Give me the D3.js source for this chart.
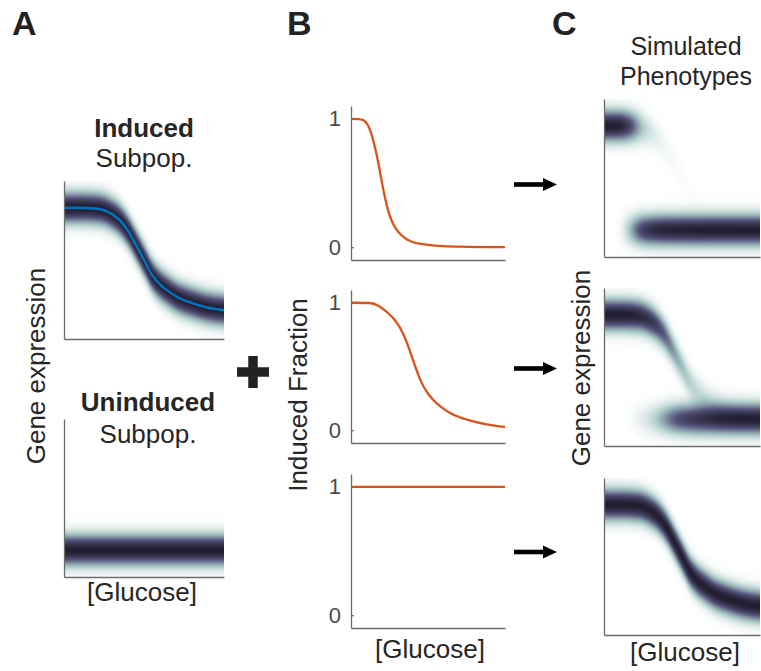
<!DOCTYPE html>
<html>
<head>
<meta charset="utf-8">
<script src="https://cdn.jsdelivr.net/npm/d3@7"></script>
<style>
  html, body { margin: 0; padding: 0; background: #ffffff; }
  svg { display: block; font-family: "Liberation Sans", Arial, Helvetica, sans-serif; }
</style>
</head>
<body>
<svg id="fig" width="761" height="671"></svg>
<script>
// ---- Data -------------------------------------------------------------
// Glucose position along the x axis (0 = low, 1 = high) and mean expression
// of the induced subpopulation (0 = bottom of the axes, 1 = top).
const glucoseInduced = [0, 0.1, 0.2, 0.25, 0.3, 0.35, 0.4, 0.45, 0.5, 0.55, 0.6, 0.65, 0.7, 0.8, 0.9, 1.0];
const meanInduced    = [0.83, 0.83, 0.825, 0.815, 0.79, 0.75, 0.685, 0.595, 0.50, 0.405, 0.345, 0.305, 0.27, 0.228, 0.198, 0.183];

// Mean expression of the uninduced subpopulation (flat in glucose).
const glucoseUninduced = [0, 1];
const meanUninduced    = [0.17, 0.17];

// Induced fraction vs glucose, one series per row of panel B.
const glucoseSteep = [0, 0.05, 0.08, 0.11, 0.13, 0.155, 0.18, 0.2, 0.22, 0.24, 0.27, 0.3, 0.34, 0.4, 0.5, 0.6, 0.75, 1.0];
const fracSteep    = [1.0, 0.998, 0.99, 0.95, 0.89, 0.78, 0.64, 0.51, 0.39, 0.29, 0.19, 0.13, 0.08, 0.04, 0.018, 0.008, 0.003, 0.0];

const glucoseGradual = [0, 0.12, 0.18, 0.23, 0.28, 0.32, 0.35, 0.38, 0.41, 0.44, 0.47, 0.5, 0.53, 0.58, 0.64, 0.71, 0.8, 0.88, 1.0];
const fracGradual    = [1.0, 0.998, 0.975, 0.93, 0.87, 0.80, 0.725, 0.63, 0.525, 0.425, 0.345, 0.288, 0.243, 0.187, 0.138, 0.10, 0.068, 0.047, 0.026];

const glucoseFlat = [0, 1];
const fracFlat    = [1, 1];

const fractionTicks = [0, 1];
const panelLetters  = ["A", "B", "C"];

// Spread of each subpopulation, as a fraction of the expression axis.
const expressionSpread = 0.063;

// ---- Helpers ----------------------------------------------------------
const svg = d3.select("#fig");
const defs = svg.append("defs");
const TEXT = "#262626";
const AXIS = "#6b6b6b";
const ORANGE = "#D95319";
const BLUE = "#0072BD";

// Colour ramp from empty (white) through pale teal and slate to a dark core.
const densityColor = d3.scaleLinear()
  .domain([0, 0.25, 0.625, 1])
  .range(["#ffffff", "#a9c9c6", "#54537a", "#221d30"])
  .interpolate(d3.interpolateRgb)
  .clamp(true);
const lut = d3.range(256).map(i => d3.rgb(densityColor(i / 255)));

// Smooth lookup through a series: draws a monotone curve in unit space
// (hidden) and samples it so density columns follow the same shape.
function smoothSeries(xs, ys) {
  const sx = d3.scaleLinear([0, 1], [0, 1000]);
  const sy = d3.scaleLinear([0, 1], [1000, 0]);
  const pts = xs.map((x, i) => [x, ys[i]]);
  const gen = d3.line().x(d => sx(d[0])).y(d => sy(d[1])).curve(d3.curveMonotoneX);
  const node = defs.append("path").attr("d", gen(pts)).node();
  const L = node.getTotalLength();
  const n = 2000;
  const sampX = [], sampY = [];
  for (let k = 0; k <= n; k++) {
    const p = node.getPointAtLength(L * k / n);
    sampX.push(sx.invert(p.x));
    sampY.push(sy.invert(p.y));
  }
  const bis = d3.bisector(d => d).left;
  return g => {
    let i = bis(sampX, g);
    if (i <= 0) return sampY[0];
    if (i >= sampX.length) return sampY[sampY.length - 1];
    const x0 = sampX[i - 1], x1 = sampX[i];
    const t = x1 > x0 ? (g - x0) / (x1 - x0) : 0;
    return sampY[i - 1] + t * (sampY[i] - sampY[i - 1]);
  };
}

const inducedMean   = smoothSeries(glucoseInduced, meanInduced);
const uninducedMean = smoothSeries(glucoseUninduced, meanUninduced);

// Expression density of a two-subpopulation mixture drawn into the axes.
function drawDensity(x, y, fracFn) {
  const [px0, px1] = x.range();
  const [py1, py0] = y.range();
  const w = Math.round(px1 - px0), h = Math.round(py1 - py0);
  const canvas = document.createElement("canvas");
  canvas.width = w; canvas.height = h;
  const ctx = canvas.getContext("2d");
  const img = ctx.createImageData(w, h);
  for (let i = 0; i < w; i++) {
    const g = x.invert(px0 + i + 0.5);
    const f = Math.max(0, Math.min(1, fracFn(g)));
    const mi = inducedMean(g), mu = uninducedMean(g);
    for (let j = 0; j < h; j++) {
      const e = y.invert(py0 + j + 0.5);
      const a = (e - mi) / expressionSpread, b = (e - mu) / expressionSpread;
      const d = f * Math.exp(-a * a / 2) + (1 - f) * Math.exp(-b * b / 2);
      const c = lut[Math.round(Math.min(1, d) * 255)];
      const k = (j * w + i) * 4;
      img.data[k] = c.r; img.data[k + 1] = c.g; img.data[k + 2] = c.b; img.data[k + 3] = 255;
    }
  }
  ctx.putImageData(img, 0, 0);
  svg.append("image")
    .attr("x", px0).attr("y", py0).attr("width", w).attr("height", h)
    .attr("preserveAspectRatio", "none")
    .attr("href", canvas.toDataURL());
}

// Left and bottom axis lines without ticks.
function drawBareAxes(x, y) {
  const g = svg.append("g");
  g.append("g").attr("transform", `translate(${x.range()[0]},0)`)
    .call(d3.axisLeft(y).tickValues([]).tickSizeOuter(0));
  g.append("g").attr("transform", `translate(0,${y.range()[0]})`)
    .call(d3.axisBottom(x).tickValues([]).tickSizeOuter(0));
  g.selectAll(".domain").attr("stroke", AXIS).attr("stroke-width", 1.3);
}

function label(text, x, y, opts = {}) {
  const t = svg.append("text")
    .attr("x", x).attr("y", y)
    .attr("text-anchor", opts.anchor || "middle")
    .attr("font-size", opts.size || 26)
    .attr("font-weight", opts.weight || "normal")
    .attr("fill", opts.fill || TEXT)
    .text(text);
  if (opts.rotate) t.attr("transform", `rotate(${opts.rotate},${x},${y})`);
  return t;
}

// ---- Panel A: the two subpopulations ----------------------------------
const xA = d3.scaleLinear([0, 1], [64, 224]);
const yA1 = d3.scaleLinear([0, 1], [339, 181]);
const yA2 = d3.scaleLinear([0, 1], [577, 419]);

drawDensity(xA, yA1, () => 1);
svg.append("path")
  .datum(glucoseInduced.map((g, i) => [g, meanInduced[i]]))
  .attr("fill", "none").attr("stroke", BLUE).attr("stroke-width", 2.6)
  .attr("d", d3.line().x(d => xA(d[0])).y(d => yA1(d[1])).curve(d3.curveMonotoneX));
drawBareAxes(xA, yA1);

drawDensity(xA, yA2, () => 0);
drawBareAxes(xA, yA2);

label("Induced", 144, 137, { weight: "bold" });
label("Subpop.", 144, 167);
label("Uninduced", 148, 411, { weight: "bold" });
label("Subpop.", 148, 443);
label("[Glucose]", 142, 601);
label("Gene expression", 45, 366, { rotate: -90 });

// Plus sign between panels A and B
svg.append("path")
  .attr("d", "M237,372H269M253,356V388")
  .attr("stroke", "#222222").attr("stroke-width", 9.5).attr("fill", "none");

// ---- Panel B: induced fraction ----------------------------------------
const xB = d3.scaleLinear([0, 1], [351, 505]);
const rowsB = [
  { top: 106, bottom: 260, xs: glucoseSteep,   ys: fracSteep },
  { top: 290, bottom: 443, xs: glucoseGradual, ys: fracGradual },
  { top: 474, bottom: 628, xs: glucoseFlat,    ys: fracFlat }
];
const fracFns = [];
rowsB.forEach(r => {
  const y = d3.scaleLinear([-0.1, 1.1], [r.bottom, r.top]);
  const g = svg.append("g");
  g.append("g").attr("transform", `translate(${xB.range()[0]},0)`)
    .call(d3.axisLeft(y).tickValues(fractionTicks).tickFormat(d3.format("d"))
      .tickSizeInner(-3).tickSizeOuter(0).tickPadding(10));
  g.append("g").attr("transform", `translate(0,${r.bottom})`)
    .call(d3.axisBottom(xB).tickValues([]).tickSizeOuter(0));
  g.selectAll(".domain").attr("stroke", AXIS).attr("stroke-width", 1.3);
  g.selectAll(".tick line").attr("stroke", AXIS).attr("stroke-width", 1.2);
  g.selectAll(".tick text")
    .attr("fill", "#4a4a4a").attr("font-size", 22)
    .attr("font-family", "'Liberation Sans', Arial, Helvetica, sans-serif");
  svg.append("path")
    .datum(r.xs.map((gv, i) => [gv, r.ys[i]]))
    .attr("fill", "none").attr("stroke", ORANGE).attr("stroke-width", 2.3)
    .attr("d", d3.line().x(d => xB(d[0])).y(d => y(d[1])).curve(d3.curveMonotoneX));
  fracFns.push(smoothSeries(r.xs, r.ys));
});
label("Induced Fraction", 307, 395, { rotate: -90 });
label("[Glucose]", 430, 658);

// ---- Arrows -----------------------------------------------------------
[184.5, 368.5, 552].forEach(cy => {
  svg.append("path")
    .attr("d", `M514,${cy}H545`)
    .attr("stroke", "#000000").attr("stroke-width", 4.6);
  svg.append("path")
    .attr("d", `M543,${cy - 6.5}L557,${cy}L543,${cy + 6.5}Z`)
    .attr("fill", "#000000");
});

// ---- Panel C: simulated phenotypes ------------------------------------
const xC = d3.scaleLinear([0, 1], [604, 760]);
const rowsC = [
  { top: 99,  bottom: 257 },
  { top: 288, bottom: 446 },
  { top: 478, bottom: 635 }
];
rowsC.forEach((r, i) => {
  const y = d3.scaleLinear([0, 1], [r.bottom, r.top]);
  drawDensity(xC, y, fracFns[i]);
  drawBareAxes(xC, y);
});
label("Simulated", 686, 55, { size: 25 });
label("Phenotypes", 686, 85, { size: 25 });
label("[Glucose]", 685, 661);
label("Gene expression", 590, 368, { rotate: -90 });

// ---- Panel letters ----------------------------------------------------
[[12, 35], [287, 35], [552, 35]].forEach((p, i) =>
  label(panelLetters[i], p[0], p[1], { anchor: "start", weight: "bold", size: 34, fill: "#222222" }));
</script>
</body>
</html>
